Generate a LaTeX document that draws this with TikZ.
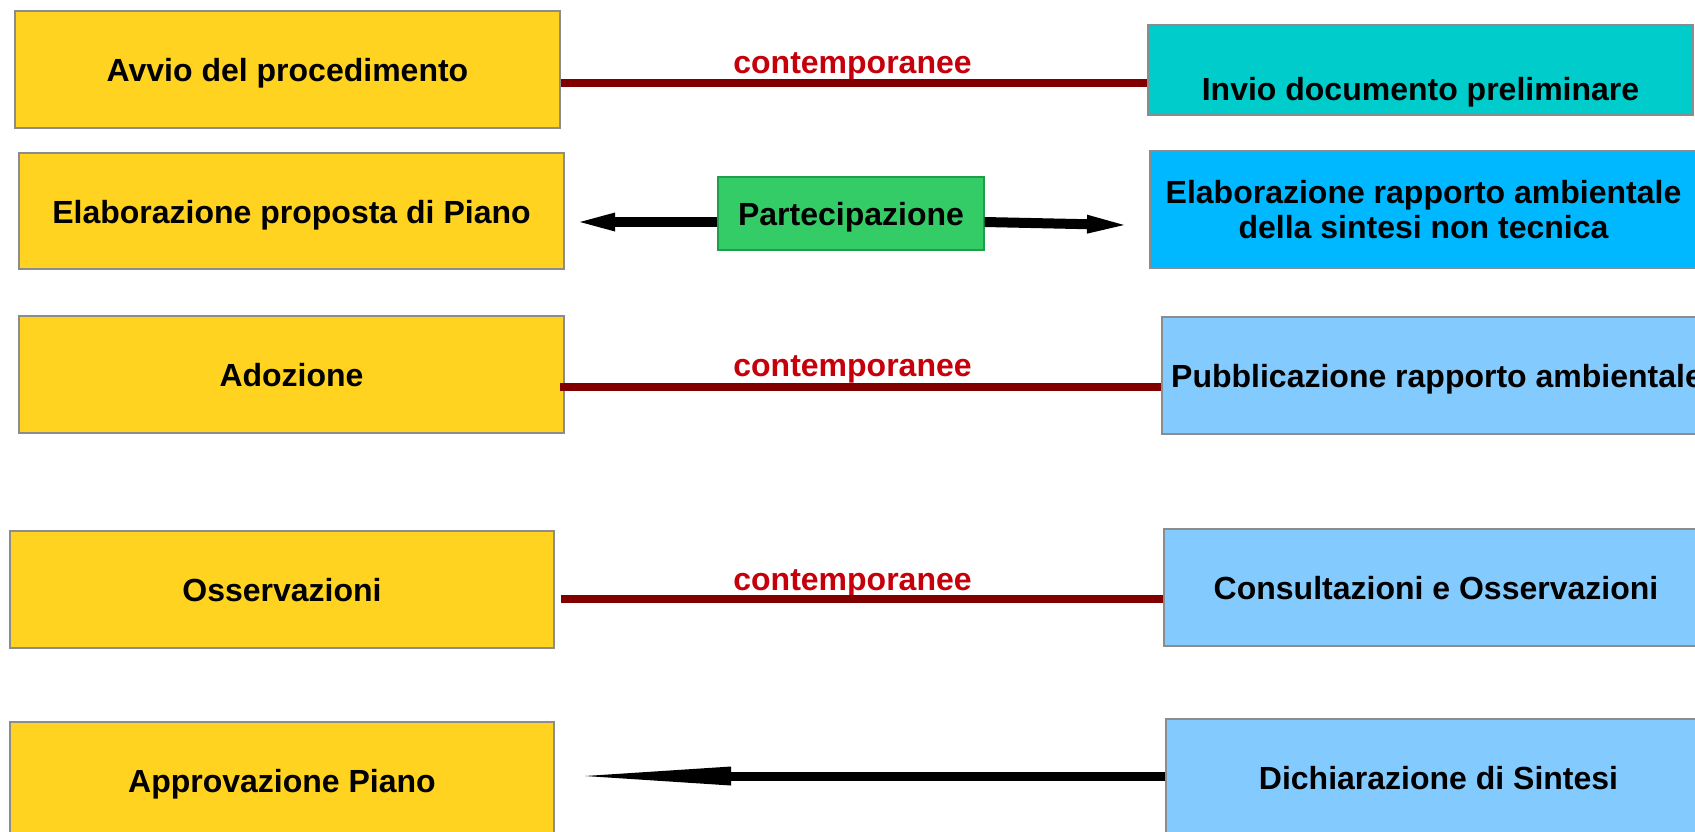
\documentclass[tikz,border=0pt]{standalone}
\usepackage{fontspec}
\setmainfont{Liberation Sans}
\usetikzlibrary{arrows.meta}
\definecolor{yellowfill}{HTML}{FFD320}
\definecolor{turqfill}{HTML}{00CCCC}
\definecolor{bluefill}{HTML}{00B8FF}
\definecolor{lightbluefill}{HTML}{83CAFF}
\definecolor{greenfill}{HTML}{33CC66}
\definecolor{greenborder}{HTML}{1E9E4A}
\definecolor{boxborder}{HTML}{8C8C8C}
\definecolor{maroonline}{HTML}{800000}
\definecolor{labelred}{HTML}{C5000B}
\begin{document}
\begin{tikzpicture}[x=0.5pt,y=-0.5pt,
  box/.style={draw=boxborder, line width=0.6pt, minimum width=272.5pt, minimum height=58.5pt,
    inner sep=0pt, align=center, text=black,
    font=\fontsize{16pt}{17.5pt}\selectfont\bfseries},
  oneline/.style={text height=15pt, text depth=3pt},
  lab/.style={text=labelred, inner sep=0pt, anchor=base,
    font=\fontsize{16pt}{17.5pt}\selectfont\bfseries},
  simul/.style={draw=maroonline, line width=4pt},
  fat/.style={draw=black, line width=5pt}]
\useasboundingbox (0,0) rectangle (1695,831);
\clip (0,0) rectangle (1695,831);
% left column
\node[box, oneline, fill=yellowfill] (avvio) at (287.5,69.5) {Avvio del procedimento};
\node[box, oneline, fill=yellowfill, minimum height=58pt] (elabP) at (291.5,211) {Elaborazione proposta di Piano};
\node[box, oneline, fill=yellowfill] (adoz) at (291.5,374.5) {Adozione};
\node[box, oneline, fill=yellowfill, minimum width=272pt] (osserv) at (282,589.5) {Osservazioni};
\node[box, oneline, fill=yellowfill, minimum width=272pt] (approv) at (282,780.5) {Approvazione Piano};
% right column
\node[box, fill=turqfill, minimum height=45pt, text height=37.5pt, text depth=7.5pt] (invio) at (1420.5,70) {Invio documento preliminare};
\node[box, fill=bluefill, minimum width=273.5pt] (elabR) at (1423.5,209.5) {Elaborazione rapporto ambientale\\della sintesi non tecnica};
\node[box, oneline, fill=lightbluefill, minimum width=275pt] (pubbl) at (1437,375.5) {Pubblicazione rapporto ambientale};
\node[box, oneline, fill=lightbluefill, minimum width=272pt] (consult) at (1436,587.5) {Consultazioni e Osservazioni};
\node[box, oneline, fill=lightbluefill, minimum width=272.5pt] (dichiar) at (1438.5,777.5) {Dichiarazione di Sintesi};
% middle
\node[box, oneline, fill=greenfill, draw=greenborder, minimum width=133pt, minimum height=36.5pt] (partec) at (851,213.5) {Partecipazione};
% labels
\node[lab] (c1) at (852.5,73) {contemporanee};
\node[lab] (c2) at (852.5,376) {contemporanee};
\node[lab] (c3) at (852.5,590) {contemporanee};
% simultaneity lines
\draw[simul] (avvio.east |- 0,83) -- (invio.west |- 0,83);
\draw[simul] ([xshift=-2.5pt]adoz.east |- 0,387) -- (pubbl.west |- 0,387);
\draw[simul] ([xshift=3pt]osserv.east |- 0,599) -- (consult.west |- 0,599);
% arrows
\coordinate (tipL) at (580,222);
\coordinate (tipR) at (1124,225);
\coordinate (tipB) at (585,776);
\draw[fat, -{Triangle[length=17.5pt,width=9.5pt,line width=0pt]}] (partec.west |- tipL) -- (tipL);
\draw[fat, -{Triangle[length=18.5pt,width=9.5pt,line width=0pt]}] (partec.east |- 0,222) -- (tipR);
\draw[draw=black, line width=4.5pt, -{Triangle[length=73pt,width=9.5pt,line width=0pt]}] (dichiar.west |- tipB) -- (tipB);
\end{tikzpicture}
\end{document}
